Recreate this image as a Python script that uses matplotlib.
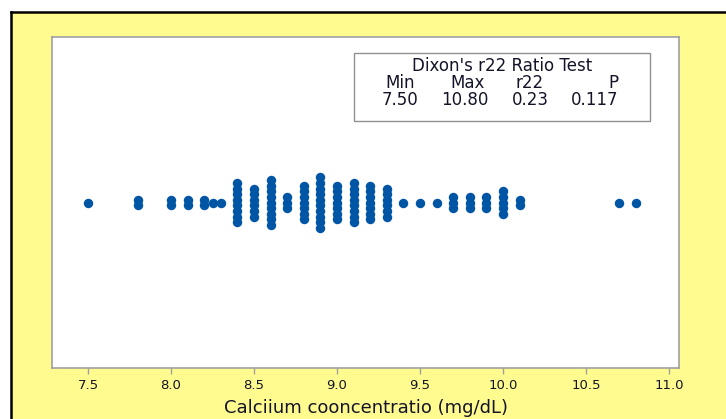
import matplotlib
matplotlib.use("Agg")
import matplotlib.pyplot as plt
from matplotlib.lines import Line2D
from matplotlib.patches import Rectangle
import numpy as np

# Data: bin centres and number of stacked dots
bin_values = [7.5, 7.8, 8.0, 8.1, 8.2, 8.25, 8.3, 8.4, 8.5, 8.6, 8.7, 8.8, 8.9,
              9.0, 9.1, 9.2, 9.3, 9.4, 9.5, 9.6, 9.7, 9.8, 9.9, 10.0, 10.1,
              10.7, 10.8]
bin_counts = [1, 2, 2, 2, 2, 1, 1, 8, 6, 9, 3, 7, 10,
              7, 8, 7, 6, 1, 1, 1, 3, 3, 3, 5, 2,
              1, 1]
tick_values = [7.5, 8.0, 8.5, 9.0, 9.5, 10.0, 10.5, 11.0]
tick_labels = ["7.5", "8.0", "8.5", "9.0", "9.5", "10.0", "10.5", "11.0"]
x_label = "Calciium cooncentratio (mg/dL)"
box_title = "Dixon's r22 Ratio Test"
box_headers = ["Min", "Max", "r22", "P"]
box_values = ["7.50", "10.80", "0.23", "0.117"]

FONT = "DejaVu Sans"
TXT = "#141428"

W, H = 726, 419
fig = plt.figure(figsize=(W / 100, H / 100), dpi=100)
fig.patch.set_facecolor("white")

# yellow background with black frame (left/top)
fig.add_artist(Rectangle((11 / W, 0), 1 - 11 / W, 1 - 12 / H, transform=fig.transFigure,
                         facecolor="#FFFB8F", edgecolor="none", zorder=0))
fig.add_artist(Line2D([11 / W, 11 / W], [0, 1 - 12 / H], transform=fig.transFigure,
                      color="black", lw=1.8, zorder=1))
fig.add_artist(Line2D([11 / W, 1], [1 - 12 / H, 1 - 12 / H], transform=fig.transFigure,
                      color="black", lw=1.8, zorder=1))

left, right, top, bottom = 52, 679, 37, 368
ax = fig.add_axes([left / W, 1 - bottom / H, (right - left) / W, (bottom - top) / H])
ax.set_facecolor("white")
for s in ax.spines.values():
    s.set_color("#a0a0a0")
    s.set_linewidth(1.2)

spacing = 5.6  # px between stacked dots
ypix = bottom - top
xs, ys = [], []
for v, c in zip(bin_values, bin_counts):
    for i in range(c):
        off = (i - (c - 1) / 2) * spacing
        xs.append(v)
        ys.append(off / ypix * 2)
ax.plot(xs, ys, "o", color="#0055A5", markersize=6.8, markeredgewidth=0, linestyle="none")

ax.set_xlim(7.283, 11.06)
ax.set_ylim(-1, 1)
ax.set_yticks([])
ax.set_xticks(tick_values)
ax.set_xticklabels(tick_labels)
ax.tick_params(axis="x", direction="out", length=4, color="#a0a0a0", width=1,
               labelsize=9.5, labelcolor=TXT, pad=4)
for lab in ax.get_xticklabels():
    lab.set_family(FONT)
ax.set_xlabel(x_label, fontsize=13, family=FONT, color=TXT, labelpad=5)

# text box
bx0, by0, bx1, by1 = 354, 53, 650, 121
fig.add_artist(Rectangle((bx0 / W, 1 - by1 / H), (bx1 - bx0) / W, (by1 - by0) / H,
                         transform=fig.transFigure, facecolor="white",
                         edgecolor="#909090", lw=1.0, zorder=3))
tkw = dict(fontsize=12, family=FONT, color=TXT, zorder=4,
           transform=fig.transFigure, va="center")
fig.text(502 / W, 1 - 66 / H, box_title, ha="center", **tkw)
col_x = [400, 468, 530, 618]
col_ha = ["center", "center", "center", "right"]
for h, v, cx, ha in zip(box_headers, box_values, col_x, col_ha):
    fig.text(cx / W, 1 - 83 / H, h, ha=ha, **tkw)
    fig.text((cx - 3 if v == "10.80" else cx) / W, 1 - 100 / H, v, ha=ha, **tkw)

fig.savefig("out.png", dpi=100, facecolor=fig.get_facecolor())
